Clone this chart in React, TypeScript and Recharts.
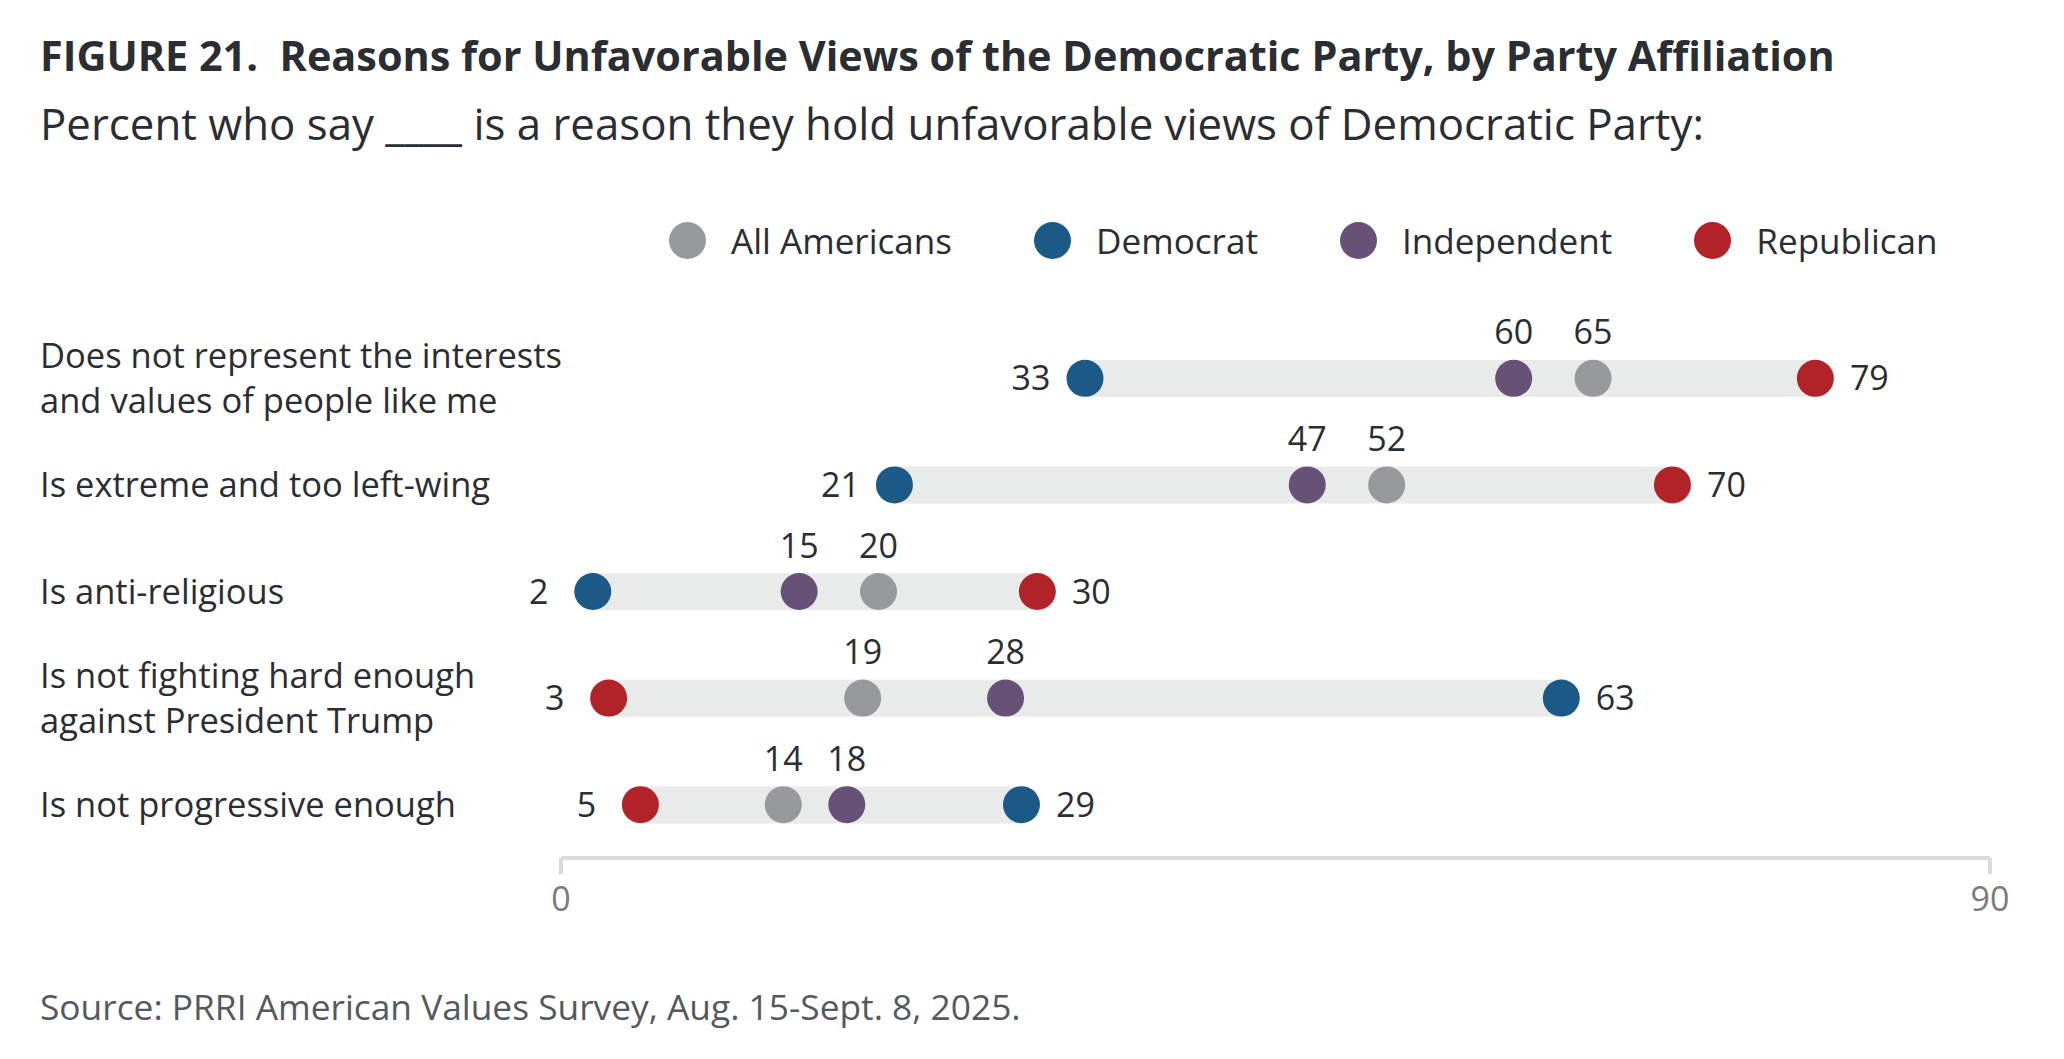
import React from "react";
import { Bar, ComposedChart, Line, XAxis, YAxis } from "recharts";

const categories: string[][] = [
  ["Does not represent the interests", "and values of people like me"],
  ["Is extreme and too left-wing"],
  ["Is anti-religious"],
  ["Is not fighting hard enough", "against President Trump"],
  ["Is not progressive enough"],
];

const allAmericans = [65, 52, 20, 19, 14];
const democrat = [33, 21, 2, 63, 29];
const independent = [60, 47, 15, 28, 18];
const republican = [79, 70, 30, 3, 5];
const axisTicks = [0, 90];

const series = [
  { key: "all", name: "All Americans", color: "#98999a", values: allAmericans },
  { key: "dem", name: "Democrat", color: "#1b5a87", values: democrat },
  { key: "ind", name: "Independent", color: "#675177", values: independent },
  { key: "rep", name: "Republican", color: "#b22329", values: republican },
];

const FONT = "'Open Sans', sans-serif";
const DARK = "#2a2d32";

const data = categories.map((lines, i) => {
  const vals = series.map((s) => s.values[i]);
  const row: any = {
    name: lines.join(" "),
    range: [Math.min(...vals), Math.max(...vals)],
    min: Math.min(...vals),
    max: Math.max(...vals),
  };
  series.forEach((s) => {
    row[s.key] = s.values[i];
  });
  return row;
});

function CategoryTick(props: any) {
  const { y, payload } = props;
  const lines = categories[payload.index] || [payload.value];
  const start = lines.length === 1 ? y + 12 : y - 10;
  return (
    <text x={40} y={start} fill={DARK} fontSize={34.5} fontFamily={FONT} textAnchor="start">
      {lines.map((l, i) => (
        <tspan key={i} x={40} y={start + i * 45}>
          {l}
        </tspan>
      ))}
    </text>
  );
}

function makeDot(color: string) {
  return (props: any) => {
    const { cx, cy, value, payload, index } = props;
    // min value sits left of its dot, max value right, the rest above
    let lx = cx;
    let ly = cy - 34;
    if (value === payload.min) {
      lx = cx - 54;
      ly = cy + 12;
    } else if (value === payload.max) {
      lx = cx + 54;
      ly = cy + 12;
    }
    return (
      <g key={`dot-${color}-${index}`}>
        <circle cx={cx} cy={cy} r={18.5} fill={color} />
        <text x={lx} y={ly} textAnchor="middle" fontSize={34} fontFamily={FONT} fill={DARK}>
          {value}
        </text>
      </g>
    );
  };
}

export default function App() {
  return (
    <div
      style={{
        position: "absolute",
        left: 0,
        top: 0,
        width: 2064,
        height: 1059,
        background: "#fff",
        fontFamily: FONT,
        color: DARK,
      }}
    >
      <div
        style={{
          position: "absolute",
          left: 40,
          top: 34,
          fontSize: 41.4,
          lineHeight: "42px",
          fontWeight: 700,
          whiteSpace: "pre",
        }}
      >
        {"FIGURE 21.  Reasons for Unfavorable Views of the Democratic Party, by Party Affiliation"}
      </div>
      <div
        style={{
          position: "absolute",
          left: 40,
          top: 102,
          fontSize: 43.8,
          lineHeight: "42px",
          whiteSpace: "pre",
        }}
      >
        Percent who say ____ is a reason they hold unfavorable views of Democratic Party:
      </div>

      <div
        style={{
          position: "absolute",
          left: 669,
          top: 222,
          height: 37,
          display: "flex",
          alignItems: "center",
          gap: 82,
        }}
      >
        {series.map((s) => (
          <div key={s.key} style={{ display: "flex", alignItems: "center" }}>
            <span
              style={{
                display: "inline-block",
                width: 37,
                height: 37,
                borderRadius: "50%",
                background: s.color,
                marginRight: 25,
              }}
            />
            <span style={{ fontSize: 35.1, lineHeight: "37px" }}>{s.name}</span>
          </div>
        ))}
      </div>

      <div style={{ position: "absolute", left: 0, top: 0 }}>
        <ComposedChart
          width={2064}
          height={1059}
          data={data}
          layout="vertical"
          margin={{ top: 325, right: 74, bottom: 141, left: 0 }}
        >
          <XAxis
            type="number"
            domain={[0, 90]}
            ticks={axisTicks}
            height={60}
            axisLine={{ stroke: "#d9dadb", strokeWidth: 4 }}
            tickLine={{ stroke: "#d9dadb", strokeWidth: 4 }}
            tickSize={16}
            tickMargin={13}
            tick={{ fill: "#7b7b7b", fontSize: 34, fontFamily: FONT }}
          />
          <YAxis
            type="category"
            dataKey="name"
            width={561}
            axisLine={false}
            tickLine={false}
            tick={<CategoryTick />}
          />
          <Bar dataKey="range" barSize={37} fill="#e9eaea" isAnimationActive={false} />
          {series.map((s) => (
            <Line
              key={s.key}
              dataKey={s.key}
              name={s.name}
              stroke="none"
              dot={makeDot(s.color)}
              activeDot={false}
              isAnimationActive={false}
            />
          ))}
        </ComposedChart>
      </div>

      <div
        style={{
          position: "absolute",
          left: 40,
          top: 989,
          fontSize: 35.3,
          lineHeight: "34px",
          color: "#54595e",
          whiteSpace: "pre",
        }}
      >
        Source: PRRI American Values Survey, Aug. 15-Sept. 8, 2025.
      </div>
    </div>
  );
}
